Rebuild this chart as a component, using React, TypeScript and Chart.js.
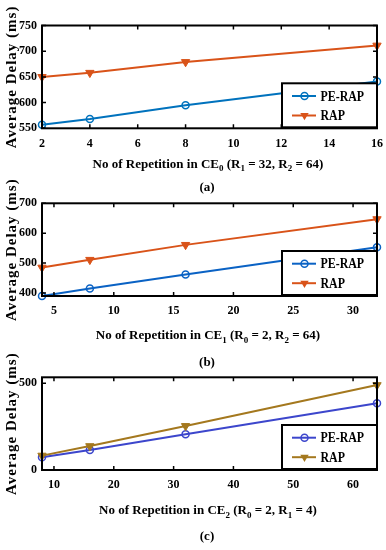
import { useEffect, useRef } from "react";
import { Chart, registerables } from "chart.js";
Chart.register(...registerables);

// ---------- data ----------
const seriesNames = ["PE-RAP", "RAP"];
const yTitle = "Average Delay (ms)";

const xA = [2, 4, 8, 16];
const peA = [557, 568, 595, 641];
const rapA = [650, 658, 679, 711];
const xTicksA = [2, 4, 6, 8, 10, 12, 14, 16];
const yTicksA = [550, 600, 650, 700, 750];
const xTitleA = "No of Repetition in CE_0 (R_1 = 32, R_2 = 64)";

const xB = [4, 8, 16, 32];
const peB = [390, 415, 462, 553];
const rapB = [485, 511, 561, 647];
const xTicksB = [5, 10, 15, 20, 25, 30];
const yTicksB = [400, 500, 600, 700];
const xTitleB = "No of Repetition in CE_1 (R_0 = 2, R_2 = 64)";

const xC = [8, 16, 32, 64];
const peC = [73, 115, 206, 385];
const rapC = [83, 138, 254, 490];
const xTicksC = [10, 20, 30, 40, 50, 60];
const yTicksC = [0, 500];
const xTitleC = "No of Repetition in CE_2 (R_0 = 2, R_1 = 4)";

const panelLabels = ["(a)", "(b)", "(c)"];

// ---------- layout / style ----------
const W = 386;
const H = 550;
const FONT = "'Liberation Serif', 'Times New Roman', serif";
const PLOT_LEFT = 42;
const PLOT_RIGHT = 377;
const X_AXIS_H = 30;

const panels = [
  {
    xs: xA, pe: peA, rap: rapA, xTicks: xTicksA, yTicks: yTicksA, xTitle: xTitleA, label: panelLabels[0],
    xMin: 2, xMax: 16, yMin: 550, yMax: 750,
    plotTop: 25.5, plotBottom: 128.3, titleBase: 167.5, labelY: 188,
    colors: ["#0072BD", "#D95319"],
  },
  {
    xs: xB, pe: peB, rap: rapB, xTicks: xTicksB, yTicks: yTicksB, xTitle: xTitleB, label: panelLabels[1],
    xMin: 4, xMax: 32, yMin: 390, yMax: 700,
    plotTop: 203.3, plotBottom: 296, titleBase: 339, labelY: 362.5,
    colors: ["#0a62c4", "#D95319"],
  },
  {
    xs: xC, pe: peC, rap: rapC, xTicks: xTicksC, yTicks: yTicksC, xTitle: xTitleC, label: panelLabels[2],
    xMin: 8, xMax: 64, yMin: 0, yMax: 535,
    plotTop: 377.3, plotBottom: 470, titleBase: 514, labelY: 536.7,
    colors: ["#3c46cc", "#A4781E"],
  },
];

function parseRich(s: string) {
  const segs: { t: string; sub: boolean }[] = [];
  let buf = "";
  for (let i = 0; i < s.length; i++) {
    if (s[i] === "_") {
      if (buf) segs.push({ t: buf, sub: false });
      buf = "";
      segs.push({ t: s[i + 1], sub: true });
      i++;
    } else buf += s[i];
  }
  if (buf) segs.push({ t: buf, sub: false });
  return segs;
}

function drawMarker(ctx: CanvasRenderingContext2D, style: string, x: number, y: number, color: string) {
  ctx.save();
  if (style === "circle") {
    ctx.beginPath();
    ctx.arc(x, y, 3.5, 0, Math.PI * 2);
    ctx.lineWidth = 1.5;
    ctx.strokeStyle = color;
    ctx.stroke();
  } else {
    const r = 4.8;
    ctx.beginPath();
    ctx.moveTo(x - r * 0.87, y - r * 0.5);
    ctx.lineTo(x + r * 0.87, y - r * 0.5);
    ctx.lineTo(x, y + r);
    ctx.closePath();
    ctx.fillStyle = color;
    ctx.fill();
  }
  ctx.restore();
}

function makeDecor(p: (typeof panels)[number]) {
  return {
    id: "decor",
    afterDatasetsDraw(chart: any) {
      const ctx: CanvasRenderingContext2D = chart.ctx;
      const ca = chart.chartArea;
      const xs = chart.scales.x;
      const ys = chart.scales.y;
      ctx.save();
      // inward ticks
      ctx.strokeStyle = "#000";
      ctx.lineWidth = 1.5;
      const tl = 4;
      ctx.beginPath();
      xs.ticks.forEach((t: any) => {
        const px = xs.getPixelForValue(t.value);
        ctx.moveTo(px, ca.bottom);
        ctx.lineTo(px, ca.bottom - tl);
        ctx.moveTo(px, ca.top);
        ctx.lineTo(px, ca.top + tl);
      });
      ys.ticks.forEach((t: any) => {
        const py = ys.getPixelForValue(t.value);
        ctx.moveTo(ca.left, py);
        ctx.lineTo(ca.left + tl, py);
        ctx.moveTo(ca.right, py);
        ctx.lineTo(ca.right - tl, py);
      });
      ctx.stroke();
      // box
      ctx.lineWidth = 2;
      ctx.strokeRect(ca.left, ca.top, ca.right - ca.left, ca.bottom - ca.top);

      // legend
      const lw = 95;
      const lh = 44;
      const lx = ca.right - lw;
      const ly = ca.bottom - 1 - lh;
      ctx.fillStyle = "#fff";
      ctx.fillRect(lx, ly, lw, lh);
      ctx.lineWidth = 2;
      ctx.strokeStyle = "#000";
      ctx.strokeRect(lx, ly, lw, lh);
      chart.data.datasets.forEach((ds: any, i: number) => {
        const ry = ly + 12.7 + i * 19.5;
        ctx.beginPath();
        ctx.strokeStyle = ds.borderColor;
        ctx.lineWidth = 2;
        ctx.moveTo(lx + 10, ry);
        ctx.lineTo(lx + 34, ry);
        ctx.stroke();
        drawMarker(ctx, ds.pointStyle, lx + 22.5, ry, ds.borderColor);
        ctx.save();
        ctx.translate(lx + 38.5, ry);
        ctx.scale(0.85, 1);
        ctx.fillStyle = "#000";
        ctx.font = `bold 14px ${FONT}`;
        ctx.textAlign = "left";
        ctx.textBaseline = "middle";
        ctx.fillText(ds.label, 0, 1);
        ctx.restore();
      });

      // y title
      ctx.save();
      ctx.translate(12, (ca.top + ca.bottom) / 2);
      ctx.rotate(-Math.PI / 2);
      ctx.fillStyle = "#000";
      ctx.font = `bold 15px ${FONT}`;
      (ctx as any).letterSpacing = "1px";
      ctx.textAlign = "center";
      ctx.textBaseline = "middle";
      ctx.fillText(yTitle, 0, 0);
      ctx.restore();

      // x title with subscripts
      const segs = parseRich(p.xTitle);
      const mainF = `bold 13px ${FONT}`;
      const subF = `bold 9px ${FONT}`;
      let total = 0;
      segs.forEach((s) => {
        ctx.font = s.sub ? subF : mainF;
        total += ctx.measureText(s.t).width;
      });
      let cx = 208 - total / 2;
      ctx.fillStyle = "#000";
      ctx.textAlign = "left";
      ctx.textBaseline = "alphabetic";
      segs.forEach((s) => {
        ctx.font = s.sub ? subF : mainF;
        ctx.fillText(s.t, cx, p.titleBase + (s.sub ? 3.5 : 0));
        cx += ctx.measureText(s.t).width;
      });

      // panel label
      ctx.font = `bold 13px ${FONT}`;
      ctx.textAlign = "center";
      ctx.textBaseline = "middle";
      ctx.fillText(p.label, 207, p.labelY);
      ctx.restore();
    },
  };
}

function buildConfig(p: (typeof panels)[number]): any {
  const tickFont = { family: FONT, size: 12, weight: "bold" as const };
  return {
    type: "line",
    data: {
      datasets: [
        {
          label: seriesNames[0],
          data: p.xs.map((x, i) => ({ x, y: p.pe[i] })),
          borderColor: p.colors[0],
          backgroundColor: "transparent",
          borderWidth: 2,
          pointStyle: "circle",
          pointRadius: 3.5,
          pointBorderWidth: 1.5,
          pointBorderColor: p.colors[0],
          pointBackgroundColor: "transparent",
          clip: false,
          order: 2,
        },
        {
          label: seriesNames[1],
          data: p.xs.map((x, i) => ({ x, y: p.rap[i] })),
          borderColor: p.colors[1],
          backgroundColor: p.colors[1],
          borderWidth: 2,
          pointStyle: "triangle",
          rotation: 180,
          pointRadius: 4.8,
          pointBorderWidth: 1,
          pointBorderColor: p.colors[1],
          pointBackgroundColor: p.colors[1],
          clip: false,
          order: 1,
        },
      ],
    },
    options: {
      responsive: false,
      animation: false,
      events: [],
      layout: {
        padding: {
          left: 0,
          right: W - PLOT_RIGHT,
          top: p.plotTop,
          bottom: H - p.plotBottom - X_AXIS_H,
        },
      },
      plugins: { legend: { display: false }, tooltip: { enabled: false } },
      scales: {
        x: {
          type: "linear",
          min: p.xMin,
          max: p.xMax,
          afterBuildTicks: (s: any) => {
            s.ticks = p.xTicks.map((v) => ({ value: v }));
          },
          afterFit: (s: any) => {
            s.height = X_AXIS_H;
            s.paddingLeft = 0;
            s.paddingRight = 0;
          },
          grid: { display: false, drawTicks: false },
          border: { display: false },
          ticks: { color: "#000", font: tickFont, padding: 8, maxRotation: 0, autoSkip: false },
        },
        y: {
          type: "linear",
          min: p.yMin,
          max: p.yMax,
          afterBuildTicks: (s: any) => {
            s.ticks = p.yTicks.map((v) => ({ value: v }));
          },
          afterFit: (s: any) => {
            s.width = PLOT_LEFT;
            s.paddingTop = 0;
            s.paddingBottom = 0;
          },
          grid: { display: false, drawTicks: false },
          border: { display: false },
          ticks: { color: "#000", font: tickFont, padding: 5, autoSkip: false },
        },
      },
    },
    plugins: [makeDecor(p)],
  };
}

export default function App() {
  const r0 = useRef<HTMLCanvasElement>(null);
  const r1 = useRef<HTMLCanvasElement>(null);
  const r2 = useRef<HTMLCanvasElement>(null);
  useEffect(() => {
    const refs = [r0, r1, r2];
    const charts = refs.map((r, i) => new Chart(r.current as HTMLCanvasElement, buildConfig(panels[i])));
    return () => charts.forEach((c) => c.destroy());
  }, []);
  const cs: any = { position: "absolute", left: 0, top: 0, width: W, height: H };
  return (
    <div style={{ position: "absolute", left: 0, top: 0, width: W, height: H, background: "#fff" }}>
      <canvas ref={r0} width={W} height={H} style={cs} />
      <canvas ref={r1} width={W} height={H} style={cs} />
      <canvas ref={r2} width={W} height={H} style={cs} />
    </div>
  );
}
